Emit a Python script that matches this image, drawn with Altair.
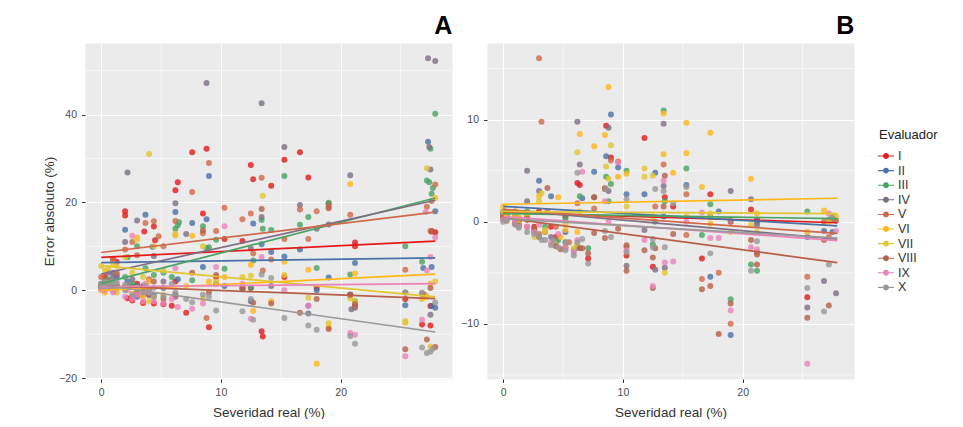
import altair as alt
import pandas as pd

FONT = "Liberation Sans, Arial, sans-serif"

EVALUADORES = ["I", "II", "III", "IV", "V", "VI", "VII", "VIII", "IX", "X"]
COLORES = ["#E41A1C", "#4A72A6", "#48A462", "#7E6E85", "#D16948",
           "#FFB716", "#E1C62F", "#B75F49", "#EC83BA", "#999999"]

# ---------------- Panel A: (severidad real, error absoluto) ----------------
A_I = [(2.0, 18), (2.0, 17), (3.6, 13.4), (4.4, 14.5), (4.5, 11.4), (6.2, 22.8), (6.4, 24.6),
       (7.6, 31.4), (8.5, 17.5), (8.8, 32.2), (10.3, 11.7), (11.8, 11.2), (12.5, 28.5),
       (12.7, 25.3), (14.2, 23.8), (15.3, 29.7), (16.6, 31.4), (17.3, 25.7), (19.0, 19.7),
       (21.2, 10.9), (21.2, 10.0), (13.4, -9.3), (13.5, -10.5), (9.0, -8.4), (7.1, -5.1),
       (5.2, -3.2), (3.5, -2.9), (2.6, -2.3), (27.6, 13.5), (27.5, -8.0), (26.8, -7.8),
       (27.5, -3.6), (27.9, 13.2), (1.0, 7.0), (1.3, 6.5), (0.3, 3.0), (3.0, 1.5), (4.0, -1.0),
       (6.2, 2.0), (9.6, 3.0), (12.5, 0.5), (15.3, 3.0), (18.0, 0.5), (20.8, -1.0), (25.4, -2.0),
       (0.0, 0.5), (0.6, 1.5), (2.2, -1.8), (4.4, -3.0), (5.9, -3.5)]
A_II = [(27.3, 33.8), (9.0, 26.0), (6.2, 17.8), (8.8, 16.2), (3.7, 17.2), (2.0, 13.8), (7.6, 15.3),
        (12.7, 15.2), (13.4, 10.5), (14.2, 8.7), (15.3, 7.7), (16.6, 9.3), (19.0, 2.9), (21.2, 6.2),
        (27.9, 18.0), (27.6, 5.3), (26.9, 5.1), (25.4, -3.4), (27.6, -3.6), (18.0, 0.0), (4.3, 9.9),
        (8.5, 5.3), (1.0, 4.0), (2.6, 1.0), (3.0, -1.5), (5.2, 0.5), (10.3, 1.0), (12.5, -2.5),
        (17.3, -3.5), (20.8, -1.0), (6.4, 2.5), (0.3, 1.2), (11.8, 0.3), (27.9, -4.0),
        (0.0, 0.8), (0.6, 2.0), (1.3, 3.0), (2.2, 2.0), (3.5, 1.0), (4.4, -1.0)]
A_III = [(27.9, 40.2), (27.5, 32.2), (27.2, 25.0), (27.4, 24.6), (27.6, 22.0), (27.7, 23.3),
         (15.3, 26.0), (17.3, 16.7), (16.6, 14.9), (19.0, 19.9), (13.4, 16.0), (13.5, 14.0),
         (14.2, 13.7), (6.2, 14.0), (6.4, 14.8), (6.5, 15.5), (8.5, 14.6), (9.6, 11.5), (10.3, 4.9),
         (7.6, 2.3), (18.0, 5.1), (20.8, 3.6), (25.4, 10.0), (26.8, 6.5), (8.8, 9.6), (12.7, 6.8),
         (12.5, 0.6), (1.0, 1.5), (2.2, 7.5), (3.0, 10.0), (4.4, 3.5), (5.9, 3.0), (0.3, 0.5),
         (3.7, 5.0), (9.0, 9.8), (21.2, -2.5),
         (0.0, 1.0), (0.6, 2.5), (1.3, 1.0), (2.0, 3.0), (2.6, 1.5), (5.2, 4.0)]
A_IV = [(27.3, 52.8), (27.9, 52.2), (8.8, 47.2), (13.4, 42.6), (15.3, 32.6), (27.4, 32.6),
        (27.5, 27.5), (2.2, 26.8), (20.8, 26.2), (6.2, 19.8), (16.6, 19.4), (3.0, 15.9),
        (13.4, 16.7), (18.0, 14.0), (27.5, -5.6), (20.9, -4.3), (17.3, -5.3), (0.6, 4.0),
        (1.3, 3.5), (2.0, 11.0), (4.4, 7.8), (7.1, 12.8), (12.5, 9.5), (19.0, 15.0), (25.4, -0.5),
        (9.6, 1.5), (5.2, 2.0), (11.8, 0.5), (14.2, 1.0), (21.2, -4.0), (0.3, 2.0), (3.5, 0.5),
        (0.0, 1.5), (1.0, 3.0), (2.6, 2.5), (3.0, 1.0), (4.0, -1.0), (6.2, -1.5)]
A_V = [(9.0, 29.0), (7.6, 22.4), (13.4, 25.6), (10.3, 18.8), (12.5, 17.5), (11.8, 16.2),
       (16.6, 18.4), (18.0, 18.0), (19.0, 19.0), (20.8, 17.2), (27.9, 24.1), (27.6, 20.3),
       (27.2, 19.0), (27.5, 13.5), (3.7, 15.3), (4.4, 15.7), (4.8, 12.3), (9.6, 13.5),
       (15.3, 11.7), (17.3, 11.7), (12.7, 8.4), (25.4, 4.7), (8.8, -6.3), (2.0, 9.3), (0.0, 3.0),
       (1.0, 7.0), (2.6, 11.0), (6.2, 15.8), (14.2, 7.0), (8.5, 13.0), (5.2, 10.0), (3.0, 8.0),
       (21.2, -3.5), (27.0, -1.0), (13.5, 4.5),
       (0.3, 1.5), (0.6, 2.0), (1.3, 4.0), (2.2, 1.0), (3.5, -1.0), (4.0, 2.5)]
A_VI = [(20.8, 24.2), (27.9, 21.0), (15.3, 6.5), (17.3, 4.7), (7.6, 12.4), (21.2, 3.8),
        (18.0, -16.7), (25.4, -7.4), (12.7, -4.7), (6.2, 12.8), (3.0, 12.0), (12.5, 5.8),
        (9.0, 2.0), (0.3, -0.5), (1.0, 0.0), (2.0, 1.0), (4.0, 2.0), (5.2, -1.0), (10.3, 3.0),
        (14.2, -2.5), (19.0, -8.5), (27.5, 1.5), (27.2, -1.5), (8.5, -2.0), (3.5, -1.5), (26.8, -2.0),
        (0.0, 0.0), (0.6, 0.5), (1.3, -0.5), (2.6, -0.8), (3.0, 0.5), (4.4, -1.5)]
A_VII = [(4.0, 31.0), (13.5, 21.5), (27.2, 27.8), (27.9, 2.0), (17.3, -1.7), (20.8, -1.8),
         (12.5, 3.3), (0.0, 5.5), (1.0, 6.0), (2.0, 7.5), (3.0, 11.5), (6.2, 12.5), (8.5, 10.0),
         (9.6, 2.0), (11.8, 3.0), (15.3, 3.5), (19.0, -7.5), (21.2, -2.5), (27.5, -12.8),
         (25.4, -7.0), (5.2, 4.5), (4.4, 10.0), (7.1, 1.0),
         (0.3, 4.5), (0.6, 5.0), (1.3, 5.5), (2.6, 4.0), (3.5, 3.0), (4.0, -2.5)]
A_VIII = [(27.2, -11.2), (27.9, -12.9), (25.4, -13.4), (13.4, 18.5), (8.5, 13.6), (19.0, 18.7),
          (21.2, -3.2), (16.6, -5.1), (27.6, 13.3), (0.3, 0.5), (1.0, 0.0), (2.6, -1.5), (3.5, 0.8),
          (4.4, 2.0), (6.2, -1.0), (7.6, 4.0), (9.6, 3.5), (11.8, 0.5), (12.7, -2.8), (14.2, -3.0),
          (18.0, -2.0), (20.8, -1.0), (26.8, -0.8), (27.5, 0.5), (5.2, -2.0), (9.0, -0.5), (19.0, -8.8),
          (0.0, 0.8), (0.6, 0.5), (1.3, 1.0), (2.0, 0.5), (3.0, -0.5), (4.0, 0.0)]
A_IX = [(10.3, 14.6), (2.6, 12.4), (27.9, 12.0), (27.5, 7.6), (27.1, 17.8), (20.8, -9.7),
        (21.2, -10.1), (25.4, -15.0), (26.8, -6.7), (12.5, -6.5), (7.6, -4.2), (13.4, 7.6),
        (9.6, 5.3), (0.3, 0.0), (1.0, -0.5), (2.0, -1.5), (3.0, -1.0), (4.0, -0.5), (4.4, -2.5),
        (5.9, -2.0), (6.2, 5.0), (8.5, -3.0), (11.8, 1.5), (15.3, 0.0), (17.3, -3.5), (27.2, 4.5),
        (1.3, 2.0), (3.7, 1.5),
        (0.0, 0.3), (0.6, 0.8), (1.0, 0.0), (2.2, 0.0), (2.6, -2.0), (3.5, -2.5), (5.2, -3.0), (6.4, -3.8)]
A_X = [(26.8, -13.0), (27.2, -14.3), (27.5, -14.0), (27.7, -13.3), (20.8, -10.4), (21.2, -12.2),
       (18.0, -9.0), (17.3, -8.0), (15.3, -6.3), (11.8, -4.8), (9.6, -4.6), (12.7, -6.7),
       (13.4, 3.6), (14.2, 2.8), (27.9, -2.8), (25.4, -0.5), (7.6, -2.7), (0.0, 1.5), (0.3, 2.0),
       (0.6, 1.0), (1.0, 1.5), (1.3, 0.5), (2.0, 0.0), (2.6, -1.0), (3.5, -0.5), (4.4, 0.5),
       (5.2, -1.5), (5.9, 1.5), (6.2, -0.5), (7.1, -2.0), (8.5, -1.0), (9.0, -1.5), (12.5, -2.0),
       (26.8, -0.5),
       (0.0, 0.8), (0.3, 1.0), (0.6, 1.8), (1.0, 0.8), (1.3, 1.5), (2.0, 1.2), (2.2, 0.8),
       (3.0, 0.5), (3.7, 1.0), (4.0, -0.5), (4.4, -1.5), (5.2, 0.5)]

# Fitted lines (value at x = 0 and at x = 27.9)
A_RECTA_INICIO = [7.5, 6.3, 1.5, 3.7, 8.6, 0.0, 5.6, 1.0, 0.8, 1.2]
A_RECTA_FIN = [11.2, 7.4, 21.0, 20.5, 17.8, 3.7, -1.5, -1.9, 1.5, -9.5]

# ---------------- Panel B ----------------
B_I = [(8.6, 9.4), (11.8, 8.2), (9.0, 6.3), (6.2, 3.8), (6.4, 3.6), (13.5, 2.4), (17.3, 2.7),
       (20.7, 1.2), (7.1, -3.6), (10.3, -3.3), (12.5, -4.4), (16.6, -3.6), (25.4, -7.4), (0.0, 0.8),
       (1.0, 0.5), (2.0, 0.2), (3.0, 1.0), (4.0, -0.5), (5.2, 0.5), (14.2, 1.5), (27.5, 0.3),
       (21.2, 0.2), (19.0, 0.0),
       (0.3, 0.6), (1.3, 0.3), (2.6, -0.5), (4.4, -1.5)]
B_II = [(9.0, 10.5), (8.6, 6.4), (9.6, 5.3), (7.6, 4.9), (12.7, 4.8), (15.3, 3.6), (3.0, 4.0),
        (4.0, 2.5), (10.3, 2.7), (11.8, 2.7), (6.6, 2.3), (19.0, -11.1), (17.3, -5.4), (26.8, -0.9),
        (18.0, 1.0), (0.0, 1.0), (2.0, 0.5), (5.2, -1.0), (6.2, -2.5), (13.4, 0.5), (21.2, 0.0),
        (27.5, -1.0), (25.4, -1.5),
        (0.3, 0.8), (1.3, 0.2), (3.5, -1.0), (4.4, -2.0)]
B_III = [(13.4, 10.9), (8.6, 4.4), (9.0, 3.7), (10.3, 5.0), (15.3, 5.2), (17.3, 1.7), (19.0, -7.6),
         (20.7, -4.2), (21.2, -4.8), (25.4, 1.0), (7.1, -2.6), (12.5, -2.2), (16.6, -1.3), (5.2, 0.3),
         (0.0, 0.5), (2.0, 1.0), (3.5, -0.5), (8.8, 2.0), (13.5, 2.0), (27.5, 0.5), (6.4, 2.5),
         (12.7, 0.0),
         (0.3, 0.4), (1.3, 0.1), (2.6, -0.8), (4.6, -1.8)]
B_IV = [(6.2, 9.8), (8.8, 9.2), (13.4, 9.6), (6.4, 5.6), (13.4, 3.5), (19.0, 3.0), (20.7, 2.2),
        (2.0, 5.0), (3.0, 3.0), (2.0, 2.0), (12.7, -4.7), (13.5, -4.5), (10.3, -4.3), (25.4, -8.4),
        (27.8, -7.0), (26.8, -5.8), (11.8, -0.8), (0.0, 0.8), (1.0, 0.0), (4.0, -1.5), (5.2, -2.0),
        (7.6, 2.4), (21.2, -0.3), (17.3, 0.5), (27.2, 0.2), (8.8, 3.0),
        (0.3, 0.5), (1.3, -0.3), (2.6, -1.0), (5.9, -2.8)]
B_V = [(3.0, 16.0), (3.2, 9.8), (9.0, 6.0), (9.6, 5.9), (13.4, 5.6), (15.3, 2.7), (19.0, -10.0),
       (25.4, -5.4), (16.6, -5.6), (18.0, -5.0), (15.3, -1.3), (0.0, 0.5), (1.0, 1.0), (2.0, -0.5),
       (3.7, 1.0), (4.4, -0.5), (6.2, 1.8), (7.6, 1.3), (8.5, 3.3), (12.7, 1.5), (21.2, -3.0),
       (27.2, -1.5), (26.8, 0.0), (10.3, -2.5), (5.2, -2.5),
       (0.3, 0.7), (1.3, 0.0), (3.0, -1.2), (5.5, -2.0)]
B_VI = [(8.8, 13.2), (13.4, 10.6), (15.3, 9.7), (17.3, 8.7), (6.4, 8.6), (7.6, 7.4), (8.5, 8.5),
        (9.6, 4.4), (10.3, 4.7), (13.4, 6.6), (14.2, 4.8), (15.3, 6.7), (16.6, 3.4), (20.7, 4.2),
        (21.2, 0.8), (4.6, 2.4), (5.2, -0.8), (17.3, -0.2), (26.8, 1.1), (0.0, 1.5), (1.0, 1.0),
        (2.0, 0.5), (3.0, 2.5), (6.2, -1.0), (12.5, 0.5), (27.5, 0.5), (25.4, -1.0),
        (0.3, 0.9), (1.3, 0.4), (3.5, -1.0), (4.8, -1.5)]
B_VII = [(9.0, 7.5), (6.2, 6.8), (8.6, 5.4), (8.8, 4.2), (11.8, 5.2), (11.8, 4.4), (12.5, 4.5),
         (3.2, 2.8), (3.0, 2.0), (13.5, -5.0), (19.0, -1.0), (17.3, 0.8), (5.9, -2.6), (4.3, -2.1),
         (3.5, -0.8), (5.2, -0.2), (0.0, 1.0), (1.0, 0.5), (2.0, 0.8), (10.3, 1.5), (20.7, -0.3),
         (27.2, 0.0), (21.2, -1.0), (6.4, 1.0), (15.3, 0.5), (27.8, 0.5),
         (0.3, 0.6), (1.3, -0.2), (2.6, -1.5), (6.2, -2.2)]
B_VIII = [(3.7, 3.3), (7.6, 2.4), (13.5, 4.5), (25.4, -9.4), (27.2, -8.2), (19.0, -8.0), (18.0, -11.0),
          (16.6, -6.6), (17.3, -6.3), (12.5, -6.5), (12.5, -3.5), (12.7, -2.6), (10.3, -4.8),
          (10.3, -2.3), (7.1, -3.1), (20.7, -1.8), (21.2, -4.2), (21.2, -3.2), (26.8, -1.8),
          (27.8, 0.1), (14.2, -1.2), (11.8, -2.8), (9.6, -0.7), (8.5, -1.6), (7.6, -1.1), (6.4, -2.6),
          (6.6, -2.6), (4.8, -2.7), (2.6, -0.7), (0.0, 0.3), (1.0, -0.2), (2.0, 0.3), (8.5, 3.2),
          (13.4, 1.5),
          (0.3, 0.1), (1.3, -0.4), (3.0, -1.5), (4.4, -2.4)]
B_IX = [(25.4, -13.9), (19.0, -8.7), (12.5, -6.3), (13.5, -4.0), (14.2, -3.9), (20.7, -2.5),
        (21.2, -2.7), (17.3, -1.6), (18.0, -1.6), (11.8, -1.8), (6.2, -1.8), (5.9, -3.0), (5.2, -2.6),
        (4.6, -1.2), (6.6, 4.9), (9.6, 5.8), (8.5, 2.0), (27.2, 0.8), (27.8, -0.9), (16.6, 0.9),
        (0.0, 0.2), (1.0, 0.0), (2.0, -0.5), (3.0, -0.3), (13.4, 4.0), (15.3, 0.0), (10.3, -2.8),
        (8.8, 0.0),
        (0.3, 0.3), (1.3, -0.5), (2.6, -1.0), (4.0, -2.0)]
B_X = [(26.8, -8.8), (25.4, -6.5), (17.3, -3.1), (12.5, -2.5), (13.5, -2.5), (12.5, -1.7),
       (10.3, -3.0), (7.1, -4.1), (20.7, -4.8), (21.2, -1.9), (27.2, -4.2), (27.5, 0.4), (19.0, 0.1),
       (9.0, -1.5), (8.5, -0.9), (6.6, -1.7), (5.9, -3.3), (5.2, -2.0), (4.2, -1.8), (3.5, -1.8),
       (3.2, -1.8), (2.6, -1.2), (6.2, 4.8), (8.6, 3.2), (12.7, 3.2), (13.4, 3.0), (15.3, 3.4),
       (0.0, 0.0), (1.0, -0.3), (14.2, 1.8), (10.3, 2.2),
       (0.3, 0.2), (1.3, -0.6), (2.0, -1.0), (3.0, -1.5), (4.0, -2.3), (4.6, -2.5), (5.2, -2.8),
       (6.2, -2.0)]

B_RECTA_INICIO = [0.9, 1.5, 0.8, 1.2, 1.2, 1.7, 1.0, 0.4, 0.5, 0.3]
B_RECTA_FIN = [-0.1, -0.4, 0.3, -1.7, -1.15, 2.3, 0.8, -4.0, -1.85, -1.6]

RECTA_X = [0.0, 27.9]

# Axis ticks and grid
X_TICKS = [0, 10, 20]
X_MINOR = [5, 15, 25]
A_Y_TICKS = [-20, 0, 20, 40]
A_Y_MINOR = [-10, 10, 30, 50]
B_Y_TICKS = [-10, 0, 10]
B_Y_MINOR = [-15, -5, 5, 15]

A_PUNTOS = [A_I, A_II, A_III, A_IV, A_V, A_VI, A_VII, A_VIII, A_IX, A_X]
B_PUNTOS = [B_I, B_II, B_III, B_IV, B_V, B_VI, B_VII, B_VIII, B_IX, B_X]


def tabla_puntos(listas):
    filas = []
    for ev, pts in zip(EVALUADORES, listas):
        for x, y in pts:
            filas.append({"Evaluador": ev, "x": x, "y": y})
    return pd.DataFrame(filas)


def tabla_rectas(inicio, fin):
    filas = []
    for ev, y0, y1 in zip(EVALUADORES, inicio, fin):
        filas.append({"Evaluador": ev, "x": RECTA_X[0], "y": y0})
        filas.append({"Evaluador": ev, "x": RECTA_X[1], "y": y1})
    return pd.DataFrame(filas)


SIMBOLO = ("M-1.15,-0.075L1.15,-0.075L1.15,0.075L-1.15,0.075Z "
           "M0.42,0A0.42,0.42,0,1,1,-0.42,0A0.42,0.42,0,1,1,0.42,0Z")


def panel(puntos, inicio, fin, letra, ydom, yticks, yminor, ytitle):
    xs = alt.Scale(domain=[-1.35, 29.3], nice=False, zero=False)
    ys = alt.Scale(domain=ydom, nice=False, zero=False)
    xaxis = alt.Axis(values=X_TICKS, titlePadding=7)
    if ytitle:
        yaxis = alt.Axis(values=yticks, minExtent=25, maxExtent=25, titlePadding=4)
    else:
        yaxis = alt.Axis(values=yticks, minExtent=25, maxExtent=25)
    xenc = alt.X("x:Q", scale=xs, axis=xaxis, title="Severidad real (%)")
    if ytitle:
        yenc = alt.Y("y:Q", scale=ys, axis=yaxis, title=ytitle)
    else:
        yenc = alt.Y("y:Q", scale=ys, axis=yaxis, title=None)

    base_color = alt.Scale(domain=EVALUADORES, range=COLORES)

    vmin = alt.Chart(pd.DataFrame({"x": X_MINOR})).mark_rule(
        color="white", strokeWidth=0.6).encode(x=xenc)
    hmin = alt.Chart(pd.DataFrame({"y": yminor})).mark_rule(
        color="white", strokeWidth=0.6).encode(y=yenc)

    pts = alt.Chart(tabla_puntos(puntos)).mark_circle(size=36, opacity=0.8).encode(
        x=xenc, y=yenc,
        color=alt.Color("Evaluador:N", scale=base_color, sort=EVALUADORES,
                        legend=alt.Legend(title="Evaluador", orient="none",
                                          legendX=794, legendY=86,
                                          symbolType=SIMBOLO, symbolSize=196,
                                          symbolStrokeWidth=0, symbolOpacity=1,
                                          rowPadding=0.6, labelOffset=5,
                                          titlePadding=7,
                                          titleFontSize=13, titleFontWeight="normal",
                                          titleColor="#222222", titleFont=FONT,
                                          labelFontSize=12.5, labelFont=FONT,
                                          labelColor="#333333")))

    lns = alt.Chart(tabla_rectas(inicio, fin)).mark_line(strokeWidth=1.7).encode(
        x=xenc, y=yenc,
        color=alt.Color("Evaluador:N", scale=base_color, sort=EVALUADORES, legend=None),
        detail="Evaluador:N")

    return alt.layer(vmin, hmin, pts, lns).properties(
        width=367, height=336,
        title=alt.TitleParams(letra, anchor="end", fontSize=25, fontWeight="bold",
                              font=FONT, color="black", offset=4))


panel_a = panel(A_PUNTOS, A_RECTA_INICIO, A_RECTA_FIN, "A", [-20.2, 56.3],
                A_Y_TICKS, A_Y_MINOR, "Error absoluto (%)")
panel_b = panel(B_PUNTOS, B_RECTA_INICIO, B_RECTA_FIN, "B", [-15.4, 17.5],
                B_Y_TICKS, B_Y_MINOR, "")

chart = alt.hconcat(panel_a, panel_b, spacing=7).resolve_scale(
    color="shared"
).properties(
    padding={"left": 33, "top": 5, "right": 5, "bottom": 0}
).configure_view(
    fill="#EBEBEB", stroke="transparent"
).configure_axis(
    domain=False, tickColor="#333333", tickSize=3.5, tickWidth=1,
    labelColor="#4D4D4D", labelFontSize=10.5, labelFont=FONT, labelPadding=5,
    titleFont=FONT, titleFontSize=13.5, titleFontWeight="normal", titleColor="#333333",
    gridColor="white", gridWidth=1.1
)

chart.save("out.html", embed_options={"renderer": "svg", "actions": False})
